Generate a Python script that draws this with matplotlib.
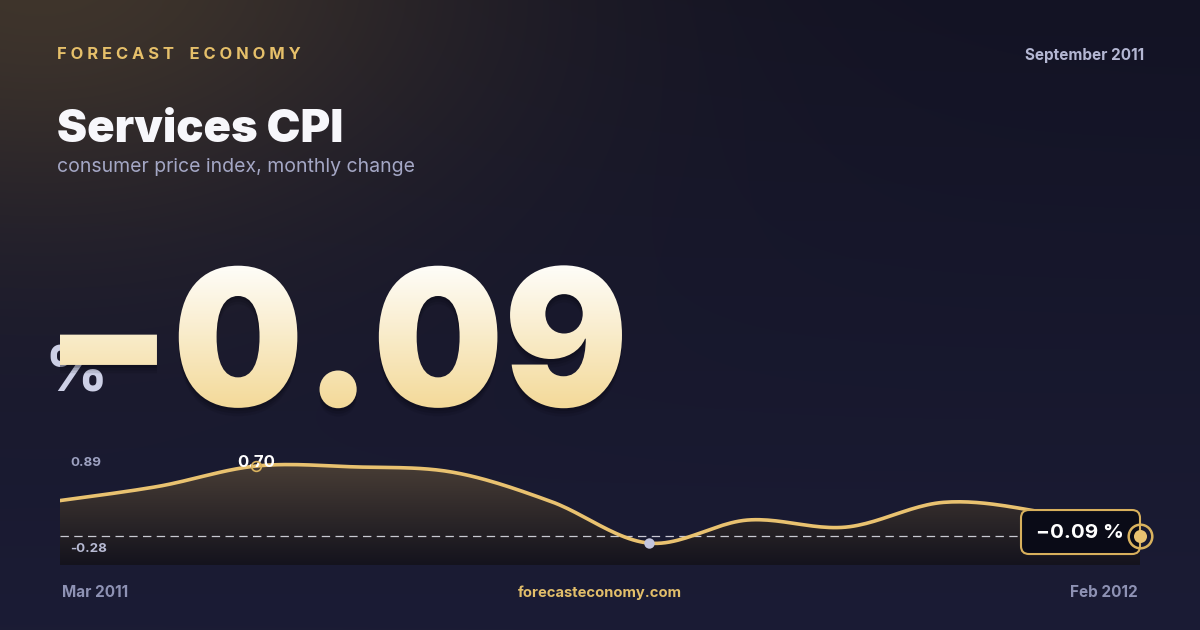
import numpy as np
import matplotlib
matplotlib.use("Agg")
import matplotlib.pyplot as plt
import matplotlib.colors as mcolors
from matplotlib.patches import FancyBboxPatch, Polygon
from matplotlib import patheffects as pe
from matplotlib.transforms import IdentityTransform, TransformedPath, Affine2D

# ---------------- data ----------------
months = ["Mar 2011", "Apr 2011", "May 2011", "Jun 2011", "Jul 2011", "Aug 2011",
          "Sep 2011", "Oct 2011", "Nov 2011", "Dec 2011", "Jan 2012", "Feb 2012"]
values = [0.31, 0.47, 0.70, 0.69, 0.63, 0.30, -0.17, 0.09, 0.01, 0.29, 0.18, -0.09]
brand = "FORECAST ECONOMY"
title = "Services CPI"
subtitle = "consumer price index, monthly change"
period = "September 2011"
headline = "\u22120.09"
unit = "%"
range_labels = ["0.89", "-0.28"]
site = "forecasteconomy.com"
max_label = "0.70"
last_label = "\u22120.09 %"

FONT = ["Inter", "DejaVu Sans"]
plt.rcParams["font.family"] = FONT

W, H = 1200, 630
fig = plt.figure(figsize=(12, 6.3), dpi=100)


class GradientFill(pe.AbstractPathEffect):
    """Soft shadow + vertical-gradient fill of the glyph outlines, slightly condensed."""

    def __init__(self, c_top, c_bot, sx=1.0, shadows=()):
        super().__init__()
        self.c_top = np.array(mcolors.to_rgb(c_top))
        self.c_bot = np.array(mcolors.to_rgb(c_bot))
        self.sx = sx
        self.shadows = shadows

    def draw_path(self, renderer, gc, tpath, affine, rgbFace=None):
        e0 = affine.transform_path(tpath).get_extents()
        squeeze = Affine2D().translate(-e0.x0, 0).scale(self.sx, 1).translate(e0.x0, 0)
        tr = affine + squeeze
        for dy, a in self.shadows:
            gcs = renderer.new_gc()
            gcs.copy_properties(gc)
            gcs.set_alpha(a)
            gcs.set_linewidth(0)
            off = Affine2D().translate(0, -renderer.points_to_pixels(dy))
            renderer.draw_path(gcs, tpath, tr + off, (0.02, 0.02, 0.05))
            gcs.restore()
        path = tr.transform_path(tpath)
        ext = path.get_extents()
        x0, y0 = int(np.floor(ext.x0)), int(np.floor(ext.y0))
        w = int(np.ceil(ext.x1)) - x0 + 1
        h = int(np.ceil(ext.y1)) - y0 + 1
        g = np.linspace(1, 0, h)[:, None, None]   # rows run bottom -> top here
        rgb = self.c_top * (1 - g) + self.c_bot * g
        arr = np.empty((h, w, 4), np.uint8)
        arr[..., :3] = np.round(np.broadcast_to(rgb, (h, w, 3)) * 255)
        arr[..., 3] = 255
        gc2 = renderer.new_gc()
        gc2.copy_properties(gc)
        gc2.set_clip_path(TransformedPath(path, IdentityTransform()))
        renderer.draw_image(gc2, x0, y0, arr)
        gc2.restore()


# ---------------- background ----------------
bg = fig.add_axes([0, 0, 1, 1])
bg.set_zorder(0)
yy, xx = np.mgrid[0:H, 0:W]
c_top = np.array([0x13, 0x13, 0x24]) / 255
c_bot = np.array([0x1b, 0x1c, 0x35]) / 255
t = (yy / H)[..., None]
base = c_top * (1 - t) + c_bot * t
glow = np.array([0x47, 0x3b, 0x2d]) / 255
r = np.hypot((xx - 40) / 560, (yy + 30) / 330)
w = (np.exp(-(r ** 2) * 1.6) * 0.85)[..., None]
img = base * (1 - w) + glow * w
bg.imshow(img, extent=[0, W, H, 0], aspect="auto", interpolation="bilinear", zorder=0)
bg.set_xlim(0, W)
bg.set_ylim(H, 0)
bg.axis("off")


def spaced(s):
    return " ".join(s).replace("   ", "    ")


bg.text(57, 59, spaced(brand), fontsize=11.9, fontweight="bold", color="#e6c06a",
        ha="left", va="baseline", zorder=2)
bg.text(1144, 60, period, fontsize=11, fontweight="bold", color="#b4b7d3",
        ha="right", va="baseline", zorder=2)
bg.text(57, 142, title, fontsize=32.6, fontweight="black", color="#f7f7fb",
        ha="left", va="baseline", zorder=2)
bg.text(57, 172, subtitle, fontsize=14, fontweight="normal", color="#a4a7c5",
        ha="left", va="baseline", zorder=2)

# unit sits underneath the big number
bg.text(44, 391, unit, fontsize=45, fontweight="bold", color="#cdd0e6",
        ha="left", va="baseline", zorder=2)
bg.text(44, 406, headline, fontsize=137, fontweight="black", color="#f9edcf",
        ha="left", va="baseline", zorder=3,
        path_effects=[GradientFill("#fefdf9", "#f3d998", sx=0.97,
                                   shadows=((6, 0.10), (4, 0.14), (2, 0.2)))])

bg.text(62, 597, months[0], fontsize=11, fontweight="bold", color="#8e92b4",
        ha="left", va="baseline", zorder=2)
bg.text(1138, 597, months[-1], fontsize=11, fontweight="bold", color="#8e92b4",
        ha="right", va="baseline", zorder=2)
bg.text(600, 597, site, fontsize=10.6, fontweight="bold", color="#e2be6a",
        ha="center", va="baseline", zorder=2)

# ---------------- chart ----------------
L, R, T, B = 60, 1140, 445, 565
ax = fig.add_axes([L / W, 1 - B / H, (R - L) / W, (B - T) / H])
ax.set_zorder(1)
ax.patch.set_alpha(0)
ylo, yhi = -0.417, 0.937
x = np.arange(len(values), dtype=float)
v = np.array(values)


def catmull(px, py, n=24):
    P = np.column_stack([px, py])
    P = np.vstack([P[0], P, P[-1]])
    out = []
    for i in range(1, len(P) - 2):
        p0, p1, p2, p3 = P[i - 1], P[i], P[i + 1], P[i + 2]
        tt = np.linspace(0, 1, n, endpoint=False)[:, None]
        seg = 0.5 * ((2 * p1) + (-p0 + p2) * tt + (2 * p0 - 5 * p1 + 4 * p2 - p3) * tt ** 2
                     + (-p0 + 3 * p1 - 3 * p2 + p3) * tt ** 3)
        out.append(seg)
    out.append(P[-2][None, :])
    out = np.vstack(out)
    return out[:, 0], out[:, 1]


xs, ys = catmull(x, v)
poly = Polygon(np.column_stack([np.r_[xs, xs[-1], xs[0]], np.r_[ys, ylo, ylo]]),
               closed=True, facecolor="none", edgecolor="none")
ax.add_patch(poly)
g = np.linspace(0, 1, 256)[:, None, None]
g_top = np.array([0x52, 0x45, 0x3a]) / 255
g_bot = np.array([0x14, 0x13, 0x1d]) / 255
gimg = g_top * (1 - g) + g_bot * g
im = ax.imshow(gimg, extent=[x[0], x[-1], ylo, yhi], aspect="auto", origin="upper", zorder=1)
im.set_clip_path(poly)

ax.axhline(values[-1], color="#e8e8f2", lw=0.9, dashes=(6.7, 4.3), alpha=0.85, zorder=2)
ax.plot(xs, ys, color="#e9c270", lw=2.6, solid_capstyle="round", zorder=3)

ax.set_xlim(x[0], x[-1])
ax.set_ylim(ylo, yhi)
ax.axis("off")

imax = int(np.argmax(v))
imin = int(np.argmin(v))
ax.annotate(max_label, (x[imax], v[imax]), xytext=(0, -0.7), textcoords="offset points",
            ha="center", va="baseline", fontsize=12, fontweight="bold", color="#ffffff",
            zorder=5, annotation_clip=False)
ax.plot(x[imax], v[imax], "o", ms=7, mfc="none", mec="#d9b25e", mew=1.2, zorder=6, clip_on=False)
ax.plot(x[imin], v[imin], "o", ms=7.5, mfc="#c3c6de", mec="none", zorder=6, clip_on=False)

# range labels
bg.text(70, 466, range_labels[0], fontsize=9.6, fontweight="bold", color="#9da1c0",
        ha="left", va="baseline", zorder=2)
ax.text(70, 552, range_labels[1], transform=bg.transData, fontsize=9.6, fontweight="bold",
        color="#b7bad3", ha="left", va="baseline", zorder=4)

# last value box, anchored on the last data point
fig.canvas.draw()
px, py = bg.transData.inverted().transform(ax.transData.transform((x[-1], v[-1])))
bw, bh = 119, 44
box = FancyBboxPatch((px - bw, py - 26), bw, bh, boxstyle="round,pad=0,rounding_size=8",
                     transform=bg.transData, facecolor="#0a0b17", edgecolor="#d8b05c",
                     lw=1.5, zorder=7, clip_on=False)
ax.add_patch(box)
ax.text(px - bw / 2 - 1, py + 2, last_label, transform=bg.transData, fontsize=14.8,
        fontweight="bold", color="#ffffff", ha="center", va="baseline", zorder=8)
ax.plot(x[-1], v[-1], "o", ms=17, mfc="none", mec="#d9b25e", mew=1.8, zorder=9, clip_on=False)
ax.plot(x[-1], v[-1], "o", ms=9.4, mfc="#e9c270", mec="none", zorder=9, clip_on=False)

fig.savefig("out.png", dpi=100)
